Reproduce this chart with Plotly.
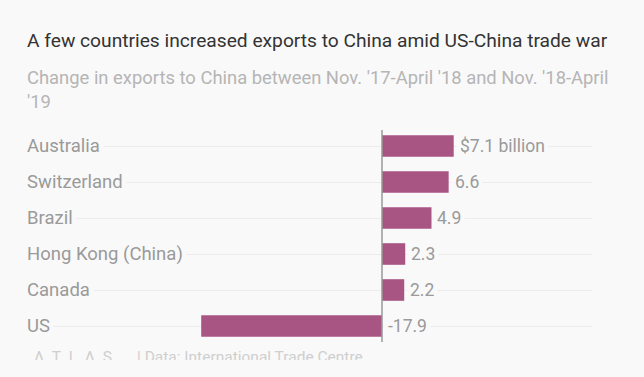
import plotly.graph_objects as go

countries = ["Australia", "Switzerland", "Brazil", "Hong Kong (China)", "Canada", "US"]
values = [7.1, 6.6, 4.9, 2.3, 2.2, -17.9]
value_labels = ["$7.1 billion", "6.6", "4.9", "2.3", "2.2", "-17.9"]

title = "A few countries increased exports to China amid US-China trade war"
subtitle = "Change in exports to China between Nov. '17-April '18 and Nov. '18-April<br>'19"
footer_logo = "Λ\u00a0\u00a0T\u00a0\u00a0L\u00a0\u00a0Λ\u00a0\u00a0S"
footer_source = "| Data: International Trade Centre"

W, H = 644, 377
BG = "#f9f9f9"
BAR = "#a85584"
FONT = "Roboto, 'Open Sans', sans-serif"

def px_x(p):
    return p / W

def px_y(p):
    return 1 - p / H

fig = go.Figure()
fig.add_trace(go.Bar(
    y=countries, x=values, orientation="h",
    marker=dict(color=BAR, line=dict(width=0)),
    width=0.6, hoverinfo="skip", showlegend=False,
))

# footer as clipped text trace
fig.add_trace(go.Scatter(
    x=[34 / W, 137 / W], y=[0.15, 0.15], mode="text",
    text=[footer_logo, footer_source], textposition="middle right",
    textfont=dict(family=FONT, size=15.5, color="#cfcfcf"),
    xaxis="x2", yaxis="y2", cliponaxis=True, showlegend=False, hoverinfo="skip",
))

x0, x1, xz = 26, 592, 382
ppu = 10.1
xrange = [-(xz - x0) / ppu, (x1 - xz) / ppu]

annotations = [
    dict(text=title, x=px_x(25), y=px_y(40), xref="paper", yref="paper",
         xanchor="left", yanchor="middle", showarrow=False,
         font=dict(family=FONT, size=19.2, color="#333333")),
    dict(text=subtitle, x=px_x(25), y=px_y(65), xref="paper", yref="paper",
         xanchor="left", yanchor="top", showarrow=False, align="left",
         font=dict(family=FONT, size=18.4, color="#b5b5b5")),
]
for c, v, lab in zip(countries, values, value_labels):
    annotations.append(dict(
        text=c, x=px_x(23), xref="paper", y=c, yref="y",
        xanchor="left", yanchor="middle", showarrow=False,
        bgcolor=BG, borderpad=3,
        font=dict(family=FONT, size=18.5, color="#9a9a9a")))
    annotations.append(dict(
        text=lab, x=max(v, 0), xref="x", y=c, yref="y",
        xanchor="left", yanchor="middle", showarrow=False, xshift=2,
        bgcolor=BG, borderpad=3,
        font=dict(family=FONT, size=17.5, color="#9a9a9a")))

fig.update_layout(
    width=W, height=H,
    margin=dict(l=0, r=0, t=0, b=0),
    paper_bgcolor=BG, plot_bgcolor=BG,
    xaxis=dict(domain=[px_x(x0), px_x(x1)], range=xrange, showgrid=False,
               zeroline=False, showticklabels=False, fixedrange=True),
    yaxis=dict(domain=[px_y(344), px_y(128)], range=[5.5, -0.5],
               categoryorder="array", categoryarray=countries,
               showgrid=True, gridcolor="#ececec", gridwidth=1,
               zeroline=False, showticklabels=False, fixedrange=True),
    xaxis2=dict(domain=[0, 1], range=[0, 1], visible=False, fixedrange=True),
    yaxis2=dict(domain=[px_y(360), px_y(345)], range=[0, 1], visible=False,
                anchor="x2", fixedrange=True),
    annotations=annotations,
    shapes=[dict(type="line", xref="x", yref="paper", x0=0, x1=0,
                 y0=px_y(342), y1=px_y(130),
                 line=dict(color="#999999", width=1.5))],
    bargap=0.4,
)

fig.write_html(
    "out.html",
    config={"displayModeBar": False},
    post_script="document.body.style.margin='0';document.body.style.background='#f9f9f9';",
)
